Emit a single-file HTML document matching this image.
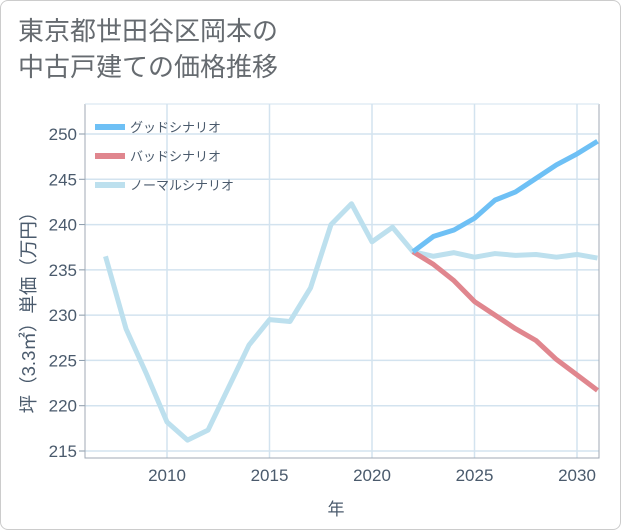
<!DOCTYPE html>
<html><head><meta charset="utf-8">
<style>
body{margin:0;background:#fff;}
#wrap{position:relative;width:619px;height:528px;border:1px solid #ccc;border-radius:8px;background:#fff;overflow:hidden;font-family:"Liberation Sans","Noto Sans CJK JP",sans-serif;}
#title{position:absolute;left:17px;top:12px;font-size:26px;line-height:36px;color:#666b70;}
svg{position:absolute;left:0;top:0;}
</style></head>
<body>
<div id="wrap">
<div id="title">東京都世田谷区岡本の<br>中古戸建ての価格推移</div>
<svg id="chart" width="621" height="530"></svg>
</div>
<script>
const years=[2007,2008,2009,2010,2011,2012,2013,2014,2015,2016,2017,2018,2019,2020,2021,2022,2023,2024,2025,2026,2027,2028,2029,2030,2031];
const normalValues=[236.5,228.5,223.5,218.2,216.2,217.3,222,226.7,229.5,229.3,233,240,242.3,238.1,239.7,237,236.5,236.9,236.4,236.8,236.6,236.7,236.4,236.7,236.3];
const futureYears=[2022,2023,2024,2025,2026,2027,2028,2029,2030,2031];
const goodValues=[237,238.7,239.4,240.7,242.7,243.6,245.1,246.6,247.8,249.2];
const badValues=[237,235.6,233.8,231.5,230,228.5,227.2,225.1,223.4,221.7];
const xTicks=[2010,2015,2020,2025,2030];
const yTicks=[215,220,225,230,235,240,245,250];
const legendLabels=["グッドシナリオ","バッドシナリオ","ノーマルシナリオ"];
const colors=["#6ec0f5","#e0868e","#bde0ee"];

const L=84,R=598,T=103,B=457;
const x=v=>166+(v-2010)*(576-166)/20;
const y=v=>450-(v-215)*(450-133)/35;
const svg=document.getElementById('chart');
const NS='http://www.w3.org/2000/svg';
function mk(t,a){const e=document.createElementNS(NS,t);for(const k in a)e.setAttribute(k,a[k]);svg.appendChild(e);return e;}

xTicks.forEach(v=>{const g=mk('line',{x1:x(v),x2:x(v),y1:T,y2:B,stroke:'#d3e3ef','stroke-width':1.5});


const t=mk('text',{x:x(v),y:B+23,'text-anchor':'middle','font-size':17,fill:'#4a5a6c'});t.textContent=v;

});
yTicks.forEach(v=>{const g=mk('line',{x1:L,x2:R,y1:y(v),y2:y(v),stroke:'#d3e3ef','stroke-width':1.5});


const tk=mk('line',{x1:L-6,x2:L,y1:y(v),y2:y(v),stroke:'#8899aa'});


const t=mk('text',{x:L-8,y:y(v)+6,'text-anchor':'end','font-size':17,fill:'#4a5a6c'});t.textContent=v;

});
const frame=mk('path',{d:`M${L} ${T}V${B}H${R}V${T}`,fill:'none',stroke:'#a0aab5','stroke-width':1});


const topLine=mk('line',{x1:L,x2:R,y1:T,y2:T,stroke:'#d3e3ef'});



function line(xs,vs,c,name){const d=xs.map((v,i)=>(i?'L':'M')+x(v)+' '+y(vs[i])).join('');
const p=mk('path',{d:d,fill:'none',stroke:c,'stroke-width':5,'stroke-linejoin':'round','stroke-linecap':'butt'});

}
line(years,normalValues,colors[2],'normal-scenario-line');
line(futureYears,badValues,colors[1],'bad-scenario-line');
line(futureYears,goodValues,colors[0],'good-scenario-line');

legendLabels.forEach((s,i)=>{const yy=126+i*29;
const r=mk('rect',{x:94,y:yy-3,width:30,height:6,fill:colors[i]});


const t=mk('text',{x:129,y:yy+5,'font-size':13,fill:'#4a5a6c'});t.textContent=s;

});

const xt=mk('text',{x:335,y:514,'text-anchor':'middle','font-size':17,fill:'#4a5a6c'});xt.textContent='年';


const yt=mk('text',{x:0,y:0,'text-anchor':'middle','font-size':18.5,fill:'#4a5a6c',transform:'translate(34,307) rotate(-90)'});yt.textContent='坪（3.3㎡）単価（万円）';


</script>
</body></html>
